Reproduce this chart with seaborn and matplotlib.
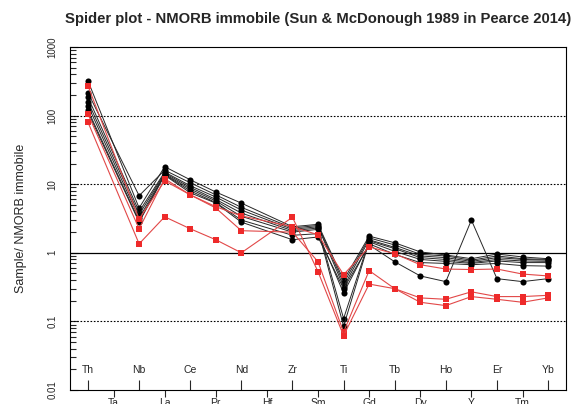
import pandas as pd
import numpy as np
import matplotlib.pyplot as plt
import seaborn as sns
from matplotlib.ticker import LogLocator, NullFormatter

# element order on the x axis (Ta and Hf have no data)
elements = ["Th", "Ta", "Nb", "La", "Ce", "Pr", "Nd", "Hf", "Zr", "Sm",
            "Ti", "Gd", "Tb", "Dy", "Ho", "Y", "Er", "Tm", "Yb"]
measured = ["Th", "Nb", "La", "Ce", "Pr", "Nd", "Zr", "Sm",
            "Ti", "Gd", "Tb", "Dy", "Ho", "Y", "Er", "Tm", "Yb"]

# normalised values, black group (circles)
b1 = [320, 4.5, 18.0, 11.6, 7.7, 5.3, 2.4, 2.6, 0.40, 1.75, 1.40, 1.03, 0.93, 0.82, 0.96, 0.87, 0.82]
b2 = [215, 6.8, 16.0, 10.5, 7.0, 4.6, 2.3, 2.5, 0.36, 1.65, 1.30, 0.95, 0.90, 0.78, 0.90, 0.82, 0.80]
b3 = [185, 4.0, 15.0, 9.5, 6.5, 4.2, 2.2, 2.4, 0.32, 1.55, 1.20, 0.90, 0.85, 0.75, 0.85, 0.80, 0.78]
b4 = [160, 3.6, 14.5, 9.0, 6.0, 3.8, 2.1, 2.3, 0.11, 1.50, 1.15, 0.85, 0.80, 0.72, 0.80, 0.76, 0.75]
b5 = [140, 3.2, 14.0, 8.5, 5.7, 3.4, 2.0, 2.2, 0.085, 1.45, 1.05, 0.80, 0.75, 0.70, 0.76, 0.72, 0.72]
b6 = [120, 2.9, 13.7, 8.0, 5.4, 3.0, 1.8, 1.9, 0.26, 1.35, 0.95, 0.72, 0.70, 0.67, 0.70, 0.65, 0.64]
b7 = [112, 2.8, 13.5, 7.5, 5.3, 2.8, 1.55, 1.7, 0.30, 1.30, 0.74, 0.46, 0.38, 3.0, 0.42, 0.38, 0.42]

# red group (squares)
r1 = [271, 3.1, 11.2, 7.0, 4.7, 3.45, 2.4, 1.83, 0.48, 1.22, 0.97, 0.67, 0.58, 0.57, 0.58, 0.49, 0.46]
r2 = [105, 2.24, 12.0, 7.0, 4.5, 2.1, 2.0, 0.74, 0.07, 0.55, 0.30, 0.22, 0.21, 0.27, 0.23, 0.23, 0.24]
r3 = [80, 1.35, 3.35, 2.24, 1.55, 1.0, 3.3, 0.53, 0.062, 0.35, 0.30, 0.19, 0.17, 0.23, 0.21, 0.19, 0.22]

black = {"B1": b1, "B2": b2, "B3": b3, "B4": b4, "B5": b5, "B6": b6, "B7": b7}
red = {"R1": r1, "R2": r2, "R3": r3}

pos = {el: i for i, el in enumerate(elements)}


def long_table(group):
    rows = []
    for name, vals in group.items():
        for el, v in zip(measured, vals):
            rows.append({"sample": name, "element": el, "pos": pos[el], "value": v})
    return pd.DataFrame(rows)


df_black = long_table(black)
df_red = long_table(red)

sns.set_theme(style="white")
plt.rcParams["font.family"] = ["Liberation Sans", "DejaVu Sans"]

fig = plt.figure(figsize=(5.71, 4.04), dpi=100)
ax = fig.add_axes([70 / 571, 1 - 390 / 404, 495.7 / 571, 343 / 404])

# reference lines
for v in [100, 10, 0.1]:
    ax.axhline(v, color="black", lw=0.8, ls=(0, (1.5, 1.5)), zorder=1)
ax.axhline(1, color="black", lw=0.9, zorder=1)

sns.lineplot(data=df_black, x="pos", y="value", units="sample", estimator=None,
             color="#262626", lw=0.7, marker="o", markersize=4.4,
             markeredgewidth=0, sort=False, ax=ax, zorder=3)
sns.lineplot(data=df_red, x="pos", y="value", units="sample", estimator=None,
             color="#e24848", lw=0.8, marker="s", markersize=4.8,
             markeredgewidth=0, sort=False, ax=ax, zorder=4)
for line in ax.lines:
    if line.get_color() == "#e24848":
        line.set_markerfacecolor("#ee2a2a")
    elif line.get_color() == "#262626":
        line.set_markerfacecolor("black")

ax.set_yscale("log")
ax.set_ylim(0.01, 1000)
ax.set_xlim(-0.704, 18.69)

# y ticks
yt = [0.01, 0.1, 1, 10, 100, 1000]
ax.set_yticks(yt, labels=["0.01", "0.1", "1", "10", "100", "1000"])
ax.yaxis.set_minor_locator(LogLocator(base=10, subs=np.arange(2, 10)))
ax.yaxis.set_minor_formatter(NullFormatter())
ax.tick_params(axis="y", which="major", direction="in", length=6, width=0.8,
               labelsize=7, labelrotation=90, pad=9, left=True)
ax.tick_params(axis="y", which="minor", direction="in", length=4, width=0.8, left=True)
for lab in ax.get_yticklabels():
    lab.set_va("center")

# x ticks: alternate rows
even = list(range(0, 19, 2))
odd = list(range(1, 19, 2))
ax.set_xticks(even, labels=[elements[i] for i in even])
ax.set_xticks(odd, labels=[elements[i] for i in odd], minor=True)
ax.tick_params(axis="x", which="major", direction="in", length=7, width=0.8,
               labelsize=7.5, pad=-18, bottom=True)
ax.tick_params(axis="x", which="minor", direction="out", length=5, width=0.8,
               labelsize=7.5, pad=0.5, bottom=True)

for s in ax.spines.values():
    s.set_color("black")
    s.set_linewidth(0.8)

ax.set_xlabel("")
ax.set_ylabel("Sample/ NMORB immobile", fontsize=9, labelpad=15)
ax.set_title("Spider plot - NMORB immobile (Sun & McDonough 1989 in Pearce 2014)",
             fontsize=10.7, fontweight="bold", pad=17)

fig.savefig("out.png", dpi=100)
